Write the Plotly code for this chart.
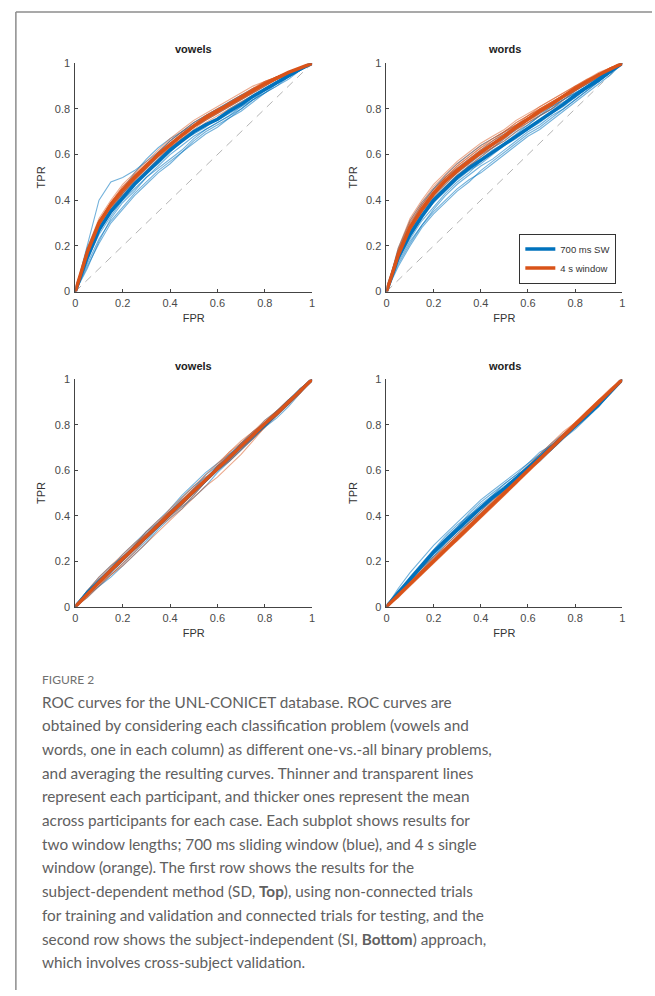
import plotly.graph_objects as go

# ---------------- data ----------------
FPR = [i / 20 for i in range(21)]  # 0, 0.05, ... 1 (grid the curves were read on)

# Top-left: vowels, subject-dependent (TPR in hundredths)
TL_BLUE_MEAN = [0, 15, 27, 35, 41, 47, 52, 57, 62, 66, 70, 73, 75.5, 79, 82, 85.5, 88.5, 91.5, 94.5, 97.5, 100]
TL_ORANGE_MEAN = [0, 17, 30, 38, 44.5, 50, 55, 60, 64.5, 68.5, 72.5, 76, 79, 82, 85, 88, 91, 93.5, 96, 98, 100]
TL_BLUE = [
    [0, 18, 29, 37, 43, 49, 54, 59, 64, 68, 72, 75, 78, 81, 84, 87, 90, 93, 95, 98, 100],
    [0, 12, 23, 31, 37, 43, 48, 53, 57, 61, 65, 69, 72, 76, 79, 83, 87, 90, 93, 97, 100],
    [0, 20, 40, 48, 50, 53, 57, 61, 66, 70, 74, 77, 80, 83, 86, 88, 91, 93, 96, 98, 100],
    [0, 14, 25, 33, 40, 45, 50, 55, 60, 64, 68, 71, 74, 77, 80, 84, 87, 90, 94, 97, 100],
    [0, 16, 28, 36, 42, 48, 53, 58, 63, 67, 70, 73, 75, 78, 81, 84, 88, 91, 95, 97, 100],
    [0, 11, 21, 30, 36, 42, 47, 52, 56, 61, 66, 70, 73, 76, 80, 84, 87, 91, 94, 97, 100],
    [0, 17, 30, 38, 44, 50, 55, 61, 66, 70, 74, 77, 80, 83, 86, 89, 91, 94, 96, 98, 100],
    [0, 13, 26, 36, 43, 48, 52, 56, 61, 66, 69, 72, 76, 80, 83, 86, 88, 91, 94, 97, 100],
    [0, 19, 31, 38, 45, 52, 58, 63, 67, 70, 73, 76, 79, 82, 85, 88, 91, 94, 96, 98, 100],
    [0, 10, 22, 32, 39, 44, 50, 54, 58, 62, 67, 71, 74, 77, 81, 85, 89, 92, 95, 98, 100],
]
TL_ORANGE = [
    [0, 19, 32, 40, 47, 52, 57, 62, 67, 71, 75, 78, 81, 84, 87, 90, 92, 94, 96, 98, 100],
    [0, 15, 27, 35, 42, 47, 52, 57, 62, 66, 70, 74, 77, 80, 83, 86, 89, 92, 95, 98, 100],
    [0, 18, 31, 39, 46, 51, 56, 61, 65, 69, 73, 77, 80, 83, 86, 89, 92, 94, 96, 98, 100],
    [0, 16, 29, 37, 43, 49, 54, 59, 63, 67, 71, 75, 78, 81, 84, 87, 90, 93, 96, 98, 100],
    [0, 17, 30, 39, 45, 50, 55, 61, 66, 70, 74, 77, 80, 82, 85, 88, 91, 94, 96, 98, 100],
    [0, 16, 28, 36, 43, 48, 53, 58, 63, 67, 72, 75, 78, 81, 84, 87, 90, 93, 95, 98, 100],
    [0, 18, 31, 38, 44, 51, 56, 60, 64, 68, 72, 76, 79, 82, 85, 88, 91, 93, 96, 98, 100],
    [0, 17, 29, 37, 45, 51, 56, 60, 64, 69, 73, 76, 79, 83, 86, 89, 91, 94, 96, 98, 100],
    [0, 18, 30, 38, 44, 49, 54, 60, 65, 69, 73, 77, 80, 82, 85, 88, 91, 93, 96, 98, 100],
    [0, 16, 30, 39, 46, 51, 55, 59, 64, 68, 72, 76, 79, 82, 85, 89, 92, 94, 96, 98, 100],
]

# Top-right: words, subject-dependent
TR_BLUE_MEAN = [0, 15, 25, 33, 40, 45, 50, 54, 57.5, 61, 64.5, 68, 71.5, 75, 78.5, 82, 86, 89.5, 93, 96.5, 100]
TR_ORANGE_MEAN = [0, 16, 28, 36, 43, 48.5, 53, 57, 61, 64.5, 68, 72, 75.5, 79, 82, 85.5, 89, 92, 95, 97.5, 100]
TR_BLUE = [
    [0, 13, 22, 29, 35, 40, 45, 49, 52, 56, 60, 64, 68, 71, 75, 79, 83, 87, 91, 95, 100],
    [0, 18, 29, 38, 45, 51, 56, 60, 64, 67, 70, 73, 76, 79, 82, 85, 88, 91, 94, 97, 100],
    [0, 14, 24, 32, 39, 44, 49, 53, 56, 60, 64, 67, 71, 74, 78, 81, 85, 89, 92, 96, 100],
    [0, 16, 27, 35, 42, 47, 52, 56, 60, 63, 66, 70, 73, 77, 80, 84, 87, 90, 93, 97, 100],
    [0, 12, 21, 29, 36, 42, 47, 51, 55, 58, 62, 66, 70, 73, 77, 80, 84, 88, 92, 96, 100],
    [0, 17, 27, 35, 41, 46, 51, 55, 59, 63, 67, 71, 74, 77, 81, 84, 88, 91, 94, 97, 100],
    [0, 15, 26, 33, 39, 45, 50, 55, 58, 62, 65, 68, 71, 75, 78, 82, 85, 89, 92, 96, 100],
    [0, 14, 23, 31, 37, 43, 48, 52, 57, 61, 65, 69, 73, 77, 80, 83, 86, 89, 92, 96, 100],
    [0, 19, 31, 39, 45, 50, 54, 58, 62, 66, 69, 72, 75, 78, 81, 84, 87, 90, 93, 96, 100],
    [0, 11, 20, 28, 34, 39, 44, 48, 53, 57, 61, 65, 69, 72, 76, 80, 84, 88, 92, 96, 100],
]
TR_ORANGE = [
    [0, 18, 31, 39, 46, 51, 56, 60, 64, 67, 70, 74, 77, 81, 84, 87, 90, 93, 95, 98, 100],
    [0, 15, 26, 34, 41, 46, 51, 55, 59, 63, 66, 70, 74, 77, 80, 84, 88, 91, 94, 97, 100],
    [0, 17, 29, 37, 44, 50, 54, 58, 62, 66, 69, 73, 76, 80, 83, 86, 89, 92, 95, 97, 100],
    [0, 14, 26, 35, 42, 47, 52, 56, 60, 63, 67, 71, 74, 78, 81, 85, 88, 91, 94, 97, 100],
    [0, 17, 30, 38, 45, 50, 55, 59, 63, 66, 70, 73, 77, 80, 83, 86, 90, 92, 95, 98, 100],
    [0, 16, 27, 36, 42, 48, 52, 57, 60, 64, 68, 71, 75, 79, 82, 85, 88, 92, 95, 97, 100],
    [0, 19, 32, 40, 47, 52, 57, 61, 65, 68, 71, 75, 78, 81, 84, 87, 90, 93, 96, 98, 100],
    [0, 17, 28, 37, 43, 49, 54, 58, 62, 65, 69, 73, 76, 80, 83, 86, 89, 92, 95, 97, 100],
    [0, 15, 27, 35, 42, 48, 53, 57, 61, 65, 68, 72, 76, 79, 82, 86, 89, 92, 95, 98, 100],
    [0, 18, 30, 38, 44, 50, 55, 59, 63, 67, 70, 74, 77, 80, 83, 86, 89, 92, 95, 97, 100],
]

# Bottom-left: vowels, subject-independent
BL_BLUE_MEAN = [0, 6, 11, 16, 21, 26, 31, 36, 41, 46, 51, 56, 61, 66, 71, 75.5, 80, 85, 90, 95, 100]
BL_ORANGE_MEAN = [0, 5.5, 10.5, 16, 21, 26, 31, 36, 41, 46, 50.5, 55.5, 60.5, 65.5, 70.5, 75.5, 80.5, 85, 90, 95, 100]
BL_BLUE = [
    [0, 4, 9, 14, 19, 24, 29, 35, 40, 44, 48, 53, 59, 64, 69, 74, 79, 84, 89, 95, 100],
    [0, 7, 13, 18, 22, 27, 33, 38, 43, 49, 54, 59, 63, 67, 72, 76, 80, 85, 90, 95, 100],
    [0, 5, 10, 15, 21, 27, 31, 35, 40, 46, 52, 58, 62, 66, 70, 74, 79, 85, 90, 96, 100],
    [0, 6, 12, 17, 22, 26, 30, 36, 42, 47, 51, 55, 60, 66, 72, 77, 81, 86, 91, 95, 100],
    [0, 5, 9, 13, 18, 23, 28, 34, 39, 43, 49, 55, 61, 67, 71, 75, 79, 83, 88, 94, 100],
    [0, 7, 12, 16, 21, 27, 32, 37, 41, 45, 50, 56, 62, 65, 70, 76, 82, 86, 90, 95, 100],
    [0, 6, 11, 17, 23, 28, 33, 37, 42, 48, 53, 57, 60, 64, 69, 74, 80, 86, 91, 96, 100],
]
BL_ORANGE = [
    [0, 7, 13, 18, 23, 28, 32, 37, 43, 48, 53, 58, 63, 68, 72, 76, 81, 86, 91, 95, 100],
    [0, 4, 9, 14, 18, 23, 28, 33, 38, 43, 48, 53, 57, 62, 67, 73, 79, 84, 89, 95, 100],
    [0, 6, 11, 17, 22, 26, 31, 37, 42, 46, 50, 56, 62, 67, 71, 76, 80, 84, 89, 94, 100],
    [0, 5, 11, 16, 21, 27, 33, 38, 42, 47, 52, 57, 61, 65, 70, 75, 81, 86, 90, 95, 100],
    [0, 6, 10, 15, 20, 25, 30, 35, 40, 45, 51, 56, 60, 64, 69, 74, 79, 85, 90, 96, 100],
    [0, 5, 12, 17, 22, 27, 31, 36, 41, 47, 52, 56, 61, 66, 72, 77, 82, 86, 91, 95, 100],
    [0, 6, 10, 14, 19, 24, 30, 35, 39, 44, 49, 55, 62, 68, 73, 77, 81, 85, 89, 94, 100],
]

# Bottom-right: words, subject-independent
BR_BLUE_MEAN = [0, 6, 12, 18, 24, 29, 34, 39, 43.5, 48, 52, 56.5, 61, 65.5, 70, 74.5, 79, 84, 89, 94.5, 100]
BR_ORANGE_MEAN = [0, 5, 10.5, 15.5, 20.5, 25.5, 30.5, 35.5, 40.5, 45.5, 50.5, 55.5, 60.5, 65.5, 70.5, 75.5, 80.5, 85.5, 90.5, 95, 100]
BR_BLUE = [
    [0, 8, 15, 21, 27, 32, 37, 42, 47, 51, 55, 59, 63, 67, 71, 75, 80, 85, 90, 95, 100],
    [0, 5, 10, 16, 22, 27, 32, 37, 41, 46, 50, 55, 60, 65, 69, 74, 79, 84, 89, 94, 100],
    [0, 7, 13, 19, 25, 31, 36, 40, 45, 49, 53, 57, 62, 67, 72, 76, 80, 85, 89, 94, 100],
    [0, 6, 11, 17, 23, 28, 33, 38, 43, 48, 52, 56, 60, 64, 69, 74, 78, 83, 88, 95, 100],
    [0, 5, 12, 18, 24, 30, 35, 40, 44, 49, 54, 58, 63, 68, 71, 75, 79, 84, 90, 95, 100],
    [0, 7, 12, 17, 22, 28, 33, 37, 42, 47, 51, 56, 61, 66, 71, 75, 80, 85, 90, 94, 100],
    [0, 6, 13, 19, 25, 30, 35, 41, 46, 50, 54, 58, 61, 65, 69, 74, 79, 84, 88, 94, 100],
]
BR_ORANGE = [
    [0, 5, 11, 16, 21, 26, 31, 36, 41, 46, 51, 57, 62, 67, 72, 77, 81, 86, 91, 95, 100],
    [0, 4, 9, 14, 19, 24, 29, 34, 39, 44, 49, 54, 59, 64, 69, 74, 79, 85, 90, 95, 100],
    [0, 6, 11, 16, 21, 27, 32, 37, 42, 47, 51, 56, 61, 65, 70, 75, 81, 86, 91, 96, 100],
    [0, 5, 10, 15, 20, 25, 30, 35, 40, 45, 50, 55, 60, 66, 71, 76, 80, 85, 90, 95, 100],
    [0, 6, 12, 17, 22, 26, 31, 36, 41, 46, 52, 57, 61, 66, 70, 75, 80, 86, 91, 95, 100],
    [0, 4, 10, 15, 20, 25, 29, 34, 39, 44, 49, 54, 60, 65, 71, 76, 81, 85, 90, 94, 100],
    [0, 5, 10, 16, 21, 26, 31, 36, 40, 45, 50, 55, 61, 66, 71, 76, 81, 86, 90, 95, 100],
]

TICK_VALS = [0, 0.2, 0.4, 0.6, 0.8, 1]
TICK_TEXT = ["0", "0.2", "0.4", "0.6", "0.8", "1"]
PANEL_TITLES = ["vowels", "words", "vowels", "words"]
SERIES_NAMES = ["700 ms SW", "4 s window"]

CAPTION_HEAD = "FIGURE 2"
CAPTION_LINES = [
    "ROC curves for the UNL-CONICET database. ROC curves are",
    "obtained by considering each classification problem (vowels and",
    "words, one in each column) as different one-vs.-all binary problems,",
    "and averaging the resulting curves. Thinner and transparent lines",
    "represent each participant, and thicker ones represent the mean",
    "across participants for each case. Each subplot shows results for",
    "two window lengths; 700 ms sliding window (blue), and 4 s single",
    "window (orange). The first row shows the results for the",
    "subject-dependent method (SD, <b>Top</b>), using non-connected trials",
    "for training and validation and connected trials for testing, and the",
    "second row shows the subject-independent (SI, <b>Bottom</b>) approach,",
    "which involves cross-subject validation.",
]

# ---------------- styling ----------------
W, H = 655, 996
BLUE = "#0072BD"
ORANGE = "#D95319"
BLUE_T = "rgba(0,114,189,0.55)"
ORANGE_T = "rgba(217,83,25,0.5)"
AX = "#444444"
SANS = "Liberation Sans, Arial, sans-serif"
TICK_FONT = dict(family=SANS, size=11, color="#4a4a4a")


def px_x(p):
    return p / W


def px_y(p):
    return 1 - p / H


panels = [
    dict(data=(TL_BLUE, TL_ORANGE, TL_BLUE_MEAN, TL_ORANGE_MEAN), xd=(73, 312), yd=(58, 289)),
    dict(data=(TR_BLUE, TR_ORANGE, TR_BLUE_MEAN, TR_ORANGE_MEAN), xd=(387, 625), yd=(58, 289)),
    dict(data=(BL_BLUE, BL_ORANGE, BL_BLUE_MEAN, BL_ORANGE_MEAN), xd=(73, 312), yd=(378, 608)),
    dict(data=(BR_BLUE, BR_ORANGE, BR_BLUE_MEAN, BR_ORANGE_MEAN), xd=(387, 625), yd=(378, 608)),
]

fig = go.Figure()
layout = dict(
    width=W, height=H,
    margin=dict(l=0, r=0, t=0, b=0),
    paper_bgcolor="white", plot_bgcolor="white",
    showlegend=True,
    legend=dict(
        x=px_x(619), y=px_y(281), xanchor="right", yanchor="bottom",
        bgcolor="white", bordercolor="#333333", borderwidth=1,
        font=dict(family=SANS, size=9.5, color="#333333"),
        itemwidth=30, tracegroupgap=0,
    ),
    annotations=[], shapes=[],
)

for i, p in enumerate(panels):
    n = i + 1
    xa = "x" if n == 1 else f"x{n}"
    ya = "y" if n == 1 else f"y{n}"
    blue, orange, bmean, omean = p["data"]

    # chance diagonal
    fig.add_trace(go.Scatter(x=[0, 1], y=[0, 1], mode="lines", xaxis=xa, yaxis=ya,
                             line=dict(color="#b4b4b4", width=1, dash="8px,6px"),
                             showlegend=False, hoverinfo="skip"))
    for c in blue:
        fig.add_trace(go.Scatter(x=FPR, y=[v / 100 for v in c], mode="lines", xaxis=xa, yaxis=ya,
                                 line=dict(color=BLUE_T, width=1.1), showlegend=False))
    for c in orange:
        fig.add_trace(go.Scatter(x=FPR, y=[v / 100 for v in c], mode="lines", xaxis=xa, yaxis=ya,
                                 line=dict(color=ORANGE_T, width=1.1), showlegend=False))
    fig.add_trace(go.Scatter(x=FPR, y=[v / 100 for v in bmean], mode="lines", xaxis=xa, yaxis=ya,
                             line=dict(color=BLUE, width=3.5), name=SERIES_NAMES[0],
                             showlegend=(n == 2), legendrank=1))
    fig.add_trace(go.Scatter(x=FPR, y=[v / 100 for v in omean], mode="lines", xaxis=xa, yaxis=ya,
                             line=dict(color=ORANGE, width=3.5), name=SERIES_NAMES[1],
                             showlegend=(n == 2), legendrank=2))

    axis_common = dict(range=[0, 1], showline=True, linecolor=AX, linewidth=1,
                       ticks="inside", ticklen=3, tickcolor=AX, tickwidth=1,
                       tickvals=TICK_VALS, ticktext=TICK_TEXT, showgrid=False, zeroline=False,
                       tickfont=TICK_FONT, fixedrange=True)
    layout["xaxis" if n == 1 else f"xaxis{n}"] = dict(
        axis_common, domain=[px_x(p["xd"][0]), px_x(p["xd"][1])], anchor=ya,
        ticklabelstandoff=1,
        title=dict(text="FPR", font=dict(family=SANS, size=11, color="#333"), standoff=6))
    layout["yaxis" if n == 1 else f"yaxis{n}"] = dict(
        axis_common, domain=[px_y(p["yd"][1]), px_y(p["yd"][0])], anchor=xa,
        ticklabelstandoff=2,
        title=dict(text="TPR", font=dict(family=SANS, size=11, color="#333"), standoff=6))
    layout["annotations"].append(dict(
        text=f"<b>{PANEL_TITLES[i]}</b>", xref="paper", yref="paper",
        x=px_x((p["xd"][0] + p["xd"][1]) / 2), y=px_y(p["yd"][0] - 14),
        xanchor="center", yanchor="middle", showarrow=False,
        font=dict(family=SANS, size=11, color="#222")))

# page border (gray frame lines of the figure box)
layout["shapes"].append(dict(type="line", xref="paper", yref="paper",
                             x0=px_x(13), x1=1, y0=px_y(6), y1=px_y(6),
                             line=dict(color="#8c8c8c", width=1.5)))
layout["shapes"].append(dict(type="line", xref="paper", yref="paper",
                             x0=px_x(13), x1=px_x(13), y0=px_y(6), y1=0,
                             line=dict(color="#8c8c8c", width=1.5)))

# caption
layout["annotations"].append(dict(
    text=CAPTION_HEAD, xref="paper", yref="paper", x=px_x(37), y=px_y(682),
    xanchor="left", yanchor="middle", showarrow=False,
    font=dict(family="Lato, Open Sans, sans-serif", size=12, color="#707070")))
for k, line in enumerate(CAPTION_LINES):
    layout["annotations"].append(dict(
        text=line, xref="paper", yref="paper", x=px_x(37), y=px_y(704 + k * 24.0),
        xanchor="left", yanchor="middle", showarrow=False, align="left",
        font=dict(family="Lato, Open Sans, sans-serif", size=15.3, color="#606060")))

fig.update_layout(**layout)
fig.write_html("out.html", config={"displayModeBar": False},
               post_script="document.body.style.margin='0';")
